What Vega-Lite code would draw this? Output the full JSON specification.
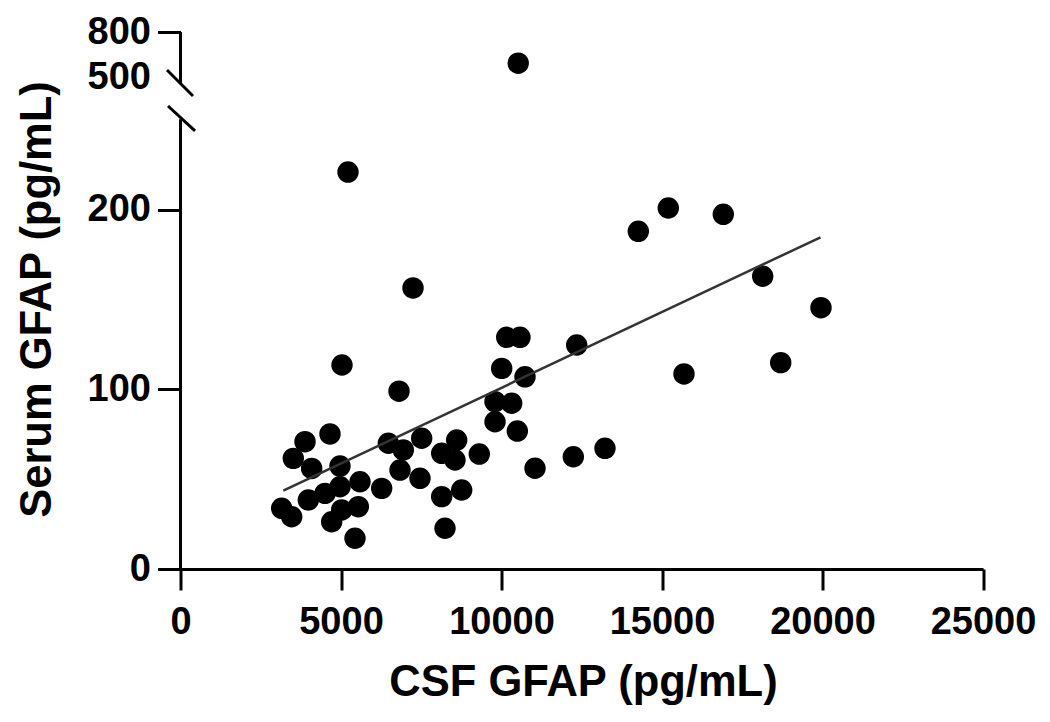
{
  "$schema": "https://vega.github.io/schema/vega-lite/v6.json",
  "autosize": {"type": "none"},
  "padding": {"left": 180.5, "top": 32, "right": 67, "bottom": 153},
  "width": 802.5,
  "height": 537,
  "background": "white",
  "config": {
    "view": {"stroke": null},
    "font": "Liberation Sans",
    "axis": {
      "labelFont": "Liberation Sans",
      "labelFontWeight": "bold",
      "labelFontSize": 38,
      "labelColor": "black",
      "labelFlush": false,
      "labelOverlap": false,
      "titleFont": "Liberation Sans",
      "titleFontWeight": "bold",
      "titleFontSize": 43.5,
      "titleColor": "black",
      "grid": false,
      "tickColor": "black",
      "tickWidth": 3,
      "domainColor": "black",
      "domainWidth": 3
    }
  },
  "datasets": {
    "points": [
      {"csf": 10520, "serum": 592},
      {"csf": 5218, "serum": 221},
      {"csf": 14262, "serum": 188},
      {"csf": 15196, "serum": 201},
      {"csf": 16910, "serum": 197.5},
      {"csf": 7243, "serum": 156.5},
      {"csf": 18137, "serum": 163},
      {"csf": 19953, "serum": 145.5},
      {"csf": 10162, "serum": 129},
      {"csf": 10576, "serum": 129},
      {"csf": 12343, "serum": 124.7},
      {"csf": 5031, "serum": 113.6},
      {"csf": 10006, "serum": 111.7},
      {"csf": 10732, "serum": 107},
      {"csf": 15685, "serum": 108.6},
      {"csf": 18698, "serum": 114.9},
      {"csf": 6807, "serum": 99},
      {"csf": 9798, "serum": 93.2},
      {"csf": 10318, "serum": 92.3},
      {"csf": 9798, "serum": 82},
      {"csf": 10493, "serum": 76.8},
      {"csf": 11044, "serum": 56.1},
      {"csf": 12237, "serum": 62.5},
      {"csf": 13224, "serum": 67.2},
      {"csf": 3879, "serum": 70.9},
      {"csf": 4657, "serum": 75.2},
      {"csf": 3514, "serum": 61.6},
      {"csf": 4086, "serum": 56},
      {"csf": 4969, "serum": 57.3},
      {"csf": 3152, "serum": 33.8},
      {"csf": 3464, "serum": 29.1},
      {"csf": 3982, "serum": 38.4},
      {"csf": 4502, "serum": 42.1},
      {"csf": 4969, "serum": 45.8},
      {"csf": 5592, "serum": 48.6},
      {"csf": 4709, "serum": 26.3},
      {"csf": 5021, "serum": 32.9},
      {"csf": 5540, "serum": 34.7},
      {"csf": 5436, "serum": 17.1},
      {"csf": 6267, "serum": 44.9},
      {"csf": 6475, "serum": 70},
      {"csf": 6941, "serum": 66.3},
      {"csf": 6838, "serum": 55.1},
      {"csf": 7513, "serum": 72.8},
      {"csf": 7461, "serum": 50.5},
      {"csf": 8137, "serum": 64.4},
      {"csf": 8604, "serum": 71.8},
      {"csf": 8551, "serum": 60.7},
      {"csf": 9308, "serum": 64},
      {"csf": 8137, "serum": 40.3},
      {"csf": 8240, "serum": 22.7},
      {"csf": 8760, "serum": 44}
    ],
    "fit": [
      {"csf": 3203, "serum": 43.6},
      {"csf": 19938, "serum": 184.7}
    ],
    "axisline": [
      {"csf": 0, "serum": 0, "csf2": 0, "serum2": 255},
      {"csf": 0, "serum": 465, "csf2": 0, "serum2": 800},
      {"csf": -420, "serum": 546.7, "csf2": 389, "serum2": 389.5},
      {"csf": -389, "serum": 331.4, "csf2": 452, "serum2": 243.9}
    ]
  },
  "encoding": {
    "x": {
      "field": "csf",
      "type": "quantitative",
      "title": "CSF GFAP (pg/mL)",
      "scale": {"domain": [0, 25000], "nice": false, "zero": false},
      "axis": {
        "values": [0, 5000, 10000, 15000, 20000, 25000],
        "format": "d",
        "tickSize": 21,
        "labelPadding": 13,
        "titleX": 402.5,
        "titleY": 126,
        "titleBaseline": "alphabetic",
        "titleAlign": "center"
      }
    },
    "y": {
      "field": "serum",
      "type": "quantitative",
      "title": "Serum GFAP (pg/mL)",
      "scale": {"domain": [0, 250, 500, 800], "range": [537, 88, 45, 0], "nice": false, "zero": false},
      "axis": {
        "values": [0, 100, 200, 500, 800],
        "domain": false,
        "tickSize": 23,
        "labelPadding": 7,
        "tickOpacity": {"condition": {"test": "datum.value === 500", "value": 0}, "value": 1},
        "titleX": -130.5,
        "titleY": 267,
        "titleAngle": -90,
        "titleAlign": "center",
        "titleBaseline": "alphabetic"
      }
    }
  },
  "layer": [
    {
      "data": {"name": "points"},
      "mark": {"type": "circle", "size": 460, "color": "black", "opacity": 1}
    },
    {
      "data": {"name": "fit"},
      "mark": {"type": "line", "color": "#333333", "strokeWidth": 2.5}
    },
    {
      "data": {"name": "axisline"},
      "mark": {"type": "rule", "color": "black", "strokeWidth": 3},
      "encoding": {
        "x2": {"field": "csf2"},
        "y2": {"field": "serum2"}
      }
    }
  ]
}
